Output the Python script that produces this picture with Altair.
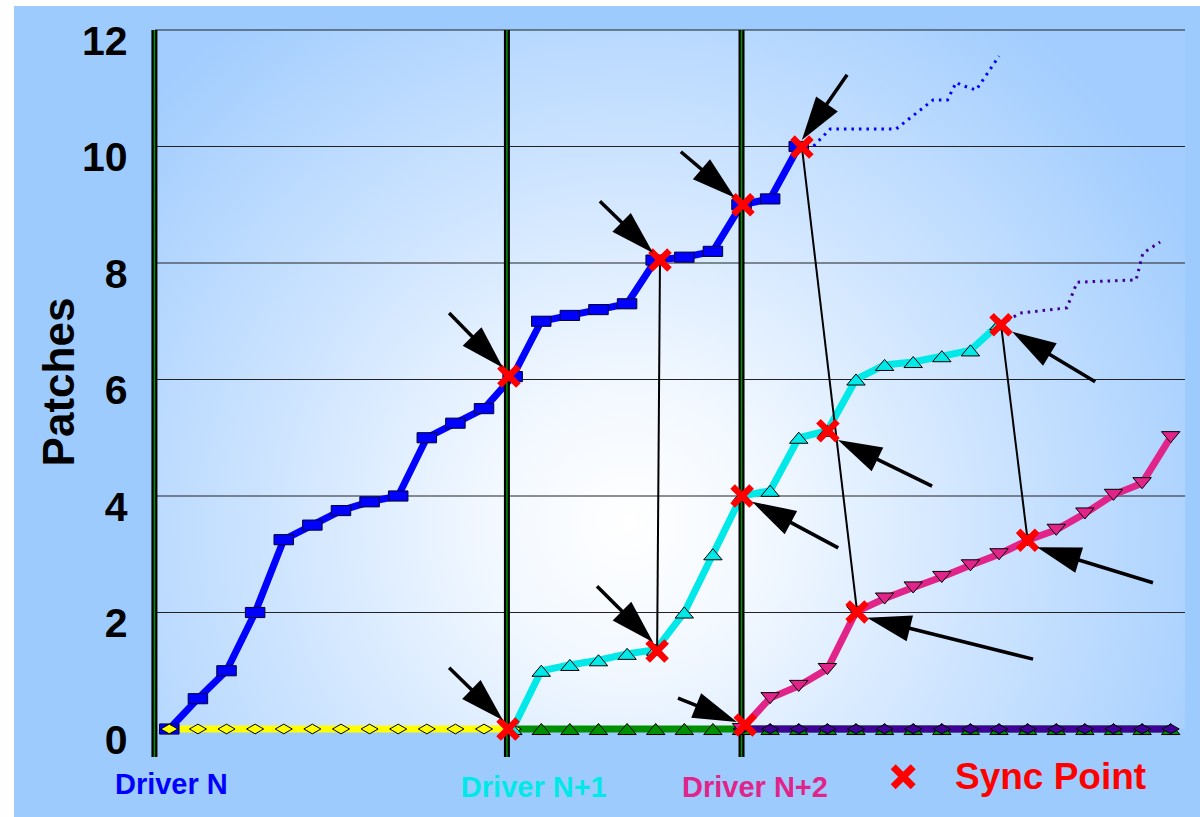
import math
import altair as alt
import pandas as pd

# ---------------- data ----------------
# x = patch/event slot index (0..35), y = Patches
n_idx = list(range(0, 23))
n_val = [0.0, 0.52, 1.0, 2.0, 3.25, 3.5, 3.75, 3.9, 4.0, 5.0, 5.25, 5.5, 6.05,
         7.0, 7.1, 7.2, 7.3, 8.05, 8.1, 8.2, 9.0, 9.1, 10.0]
n1_idx = list(range(12, 30))
n1_val = [0.0, 1.0, 1.1, 1.18, 1.29, 1.36, 2.0, 3.0, 4.0, 4.09, 5.0, 5.12,
          6.0, 6.25, 6.3, 6.4, 6.5, 6.95]
n2_idx = list(range(20, 36))
n2_val = [0.0, 0.53, 0.74, 1.03, 2.01, 2.24, 2.43, 2.61, 2.81, 3.0, 3.24,
          3.42, 3.7, 4.02, 4.22, 5.01]

# zero baselines (idle drivers)
yellow_idx = list(range(0, 13))
green_idx = list(range(12, 36))
purple_idx = list(range(20, 36))

# dotted projections
proj_n_x = [22.0, 22.5, 23.1, 25.4, 26.7, 27.2, 27.5, 27.7, 28.2, 29.0]
proj_n_y = [10.0, 10.0, 10.3, 10.3, 10.8, 10.8, 11.1, 11.05, 10.97, 11.55]
proj_n1_x = [29.07, 29.73, 31.37, 31.73, 33.79, 34.03, 34.63]
proj_n1_y = [6.94, 7.14, 7.23, 7.67, 7.71, 8.17, 8.36]

# driver release boundaries
release_x = [-0.52, 11.8, 20.0]

# sync points
sync_x = [11.87, 11.84, 17.15, 17.05, 20.05, 20.02, 20.13, 22.11, 23.02, 24.04, 29.07, 30.0]
sync_y = [6.06, 0.0, 8.05, 1.34, 9.0, 4.0, 0.07, 9.99, 5.12, 2.01, 6.94, 3.24]

# thin links between synced points
link_x1 = [17.15, 22.11, 29.07]
link_y1 = [8.05, 9.99, 6.94]
link_x2 = [17.05, 24.04, 30.0]
link_y2 = [1.34, 2.01, 3.24]

# arrows (tail -> tip)
arrow_tail_x = [9.78, 9.78, 15.05, 14.95, 17.88, 17.78, 23.69, 23.38, 26.66, 32.36, 30.19, 34.38]
arrow_tail_y = [7.14, 1.05, 9.06, 2.45, 9.91, 0.53, 11.23, 3.11, 4.17, 5.96, 1.20, 2.51]
arrow_tip_x = [11.66, 11.66, 16.91, 16.91, 19.77, 19.84, 22.11, 20.37, 23.37, 29.46, 24.39, 30.33]
arrow_tip_y = [6.20, 0.15, 8.17, 1.49, 9.12, 0.12, 10.11, 3.90, 4.96, 6.82, 1.91, 3.12]

grid_vals = [2, 4, 6, 8, 10, 12]
y_ticks = [0, 2, 4, 6, 8, 10, 12]

# ---------------- layout / style ----------------
W, H = 1030, 699
XD = [-0.5, 35.5]
YD = [0, 12]
PXX = W / (XD[1] - XD[0])
PXY = H / (YD[1] - YD[0])
FONT = "Liberation Sans"

BLUE = "#0000ff"
CYAN = "#00e8e8"
MAGENTA = "#e0248a"
YELLOW = "#ffff00"
GREEN = "#008f00"
PURPLE = "#3f0096"
RED = "#ff0000"
OUTER = "#9ecbfd"

xs = alt.Scale(domain=XD, nice=False, zero=False)
ys = alt.Scale(domain=YD, nice=False, zero=False)

SQUARE = "M-1,-0.52L1,-0.52L1,0.52L-1,0.52Z"
DIAMOND = "M-1,0L0,-0.57L1,0L0,0.57Z"
TRI_UP = "M-1,0.6L1,0.6L0,-0.6Z"
TRI_DOWN = "M-1,-0.6L1,-0.6L0,0.6Z"
XMARK = "M-1,-1L1,1M-1,1L1,-1"
HEAD = "M0,0L0.6,2L-0.6,2Z"

yaxis = alt.Axis(
    values=y_ticks, domain=False, ticks=False, tickSize=0, grid=False, zindex=1,
    labelFont=FONT, labelFontSize=41, labelFontWeight="bold", labelColor="#000000",
    labelPadding=28, labelBaseline="middle", labelOffset=12,
    title="Patches", titleFont=FONT, titleFontSize=44, titleFontWeight="bold",
    titleColor="#000000", titleAngle=270, titleX=-82, titleY=351.5,
    titleAlign="center", titleBaseline="alphabetic",
)


def df(xv, yv):
    return pd.DataFrame({"x": xv, "y": yv})


def X(f="x"):
    return alt.X(f + ":Q", scale=xs, axis=None)


def Y(f="y"):
    return alt.Y(f + ":Q", scale=ys, axis=yaxis)


layers = []

# outer light-blue panel
layers.append(
    alt.Chart(df([0], [0])).mark_rect(color=OUTER).encode(
        x=alt.value(-141), x2=alt.value(W + 15), y=alt.value(-24), y2=alt.value(H + 88)
    )
)

# plot area gradient
grad = alt.RadialGradient(
    gradient="radial",
    stops=[
        alt.GradientStop(color="#ffffff", offset=0),
        alt.GradientStop(color="#f2f8ff", offset=0.22),
        alt.GradientStop(color="#cfe5ff", offset=0.55),
        alt.GradientStop(color="#a2cdfe", offset=1),
    ],
    x1=0.46, y1=0.64, r1=0, x2=0.46, y2=0.64, r2=0.62,
)
bg = pd.DataFrame({"x": [XD[0]], "x2": [XD[1]], "y": [YD[0]], "y2": [YD[1]]})
layers.append(
    alt.Chart(bg).mark_rect(fill=grad).encode(x=X(), x2="x2:Q", y=Y(), y2="y2:Q")
)

# grid lines
grid_df = pd.DataFrame({"y": grid_vals, "x": [XD[0]] * len(grid_vals), "x2": [XD[1]] * len(grid_vals)})
layers.append(
    alt.Chart(grid_df).mark_rule(color="#222222", strokeWidth=1.2).encode(x=X(), x2="x2:Q", y=Y())
)

# dotted projections
layers.append(alt.Chart(df(proj_n_x, proj_n_y)).mark_line(
    color=BLUE, strokeWidth=3, strokeDash=[2.5, 5]).encode(x=X(), y=Y(), order="x:Q"))
layers.append(alt.Chart(df(proj_n1_x, proj_n1_y)).mark_line(
    color=PURPLE, strokeWidth=3, strokeDash=[2.5, 5]).encode(x=X(), y=Y(), order="x:Q"))

# zero baselines
layers.append(alt.Chart(df(yellow_idx, [0] * len(yellow_idx))).mark_line(color=YELLOW, strokeWidth=7).encode(x=X(), y=Y()))
layers.append(alt.Chart(df(green_idx, [0] * len(green_idx))).mark_line(color=GREEN, strokeWidth=7).encode(x=X(), y=Y()))
layers.append(alt.Chart(df(purple_idx, [0] * len(purple_idx))).mark_line(color=PURPLE, strokeWidth=7).encode(x=X(), y=Y()))

# driver curves
layers.append(alt.Chart(df(n_idx, n_val)).mark_line(color=BLUE, strokeWidth=7).encode(x=X(), y=Y()))
layers.append(alt.Chart(df(n1_idx, n1_val)).mark_line(color=CYAN, strokeWidth=7).encode(x=X(), y=Y()))
layers.append(alt.Chart(df(n2_idx, n2_val)).mark_line(color=MAGENTA, strokeWidth=7).encode(x=X(), y=Y()))

# release boundaries (black with green core)
rel = pd.DataFrame({"x": release_x, "y": [-0.48] * 3, "y2": [12] * 3})
layers.append(alt.Chart(rel).mark_rule(color="#000000", strokeWidth=6).encode(x=X(), y=Y(), y2="y2:Q"))
layers.append(alt.Chart(rel).mark_rule(color="#0a8a0a", strokeWidth=1.6).encode(x=X(), y=Y(), y2="y2:Q"))

# links between sync points
links = pd.DataFrame({"x": link_x1, "y": link_y1, "x2": link_x2, "y2": link_y2})
layers.append(alt.Chart(links).mark_rule(color="#000000", strokeWidth=2).encode(x=X(), y=Y(), x2="x2:Q", y2="y2:Q"))


def markers(xv, yv, shape, fill, size, stroke="#000000"):
    return alt.Chart(df(xv, yv)).mark_point(
        shape=shape, filled=True, fill=fill, stroke=stroke, strokeWidth=1,
        size=size, opacity=1,
    ).encode(x=X(), y=Y())


layers.append(markers(n_idx, n_val, SQUARE, BLUE, 380, stroke="#000033"))
layers.append(markers(green_idx, [0] * len(green_idx), TRI_UP, GREEN, 340))
layers.append(markers(yellow_idx, [0] * len(yellow_idx), DIAMOND, YELLOW, 290))
layers.append(markers(purple_idx, [0] * len(purple_idx), DIAMOND, PURPLE, 290))
layers.append(markers(n1_idx, n1_val, TRI_UP, CYAN, 340))
layers.append(markers(n2_idx, n2_val, TRI_DOWN, MAGENTA, 340))

# sync point crosses
layers.append(alt.Chart(df(sync_x, sync_y)).mark_point(
    shape=XMARK, filled=False, color=RED, strokeWidth=6.5, size=360, opacity=1
).encode(x=X(), y=Y()))

# arrows
shaft_rows, head_rows = [], []
for tx, ty, hx, hy in zip(arrow_tail_x, arrow_tail_y, arrow_tip_x, arrow_tip_y):
    dxp = (hx - tx) * PXX
    dyp = -(hy - ty) * PXY
    L = math.hypot(dxp, dyp)
    ang = math.degrees(math.atan2(dxp, -dyp)) % 360
    back = 24.0 / L
    shaft_rows.append({"x": tx, "y": ty, "x2": hx - (hx - tx) * back, "y2": hy - (hy - ty) * back})
    head_rows.append({"x": hx, "y": hy, "ang": ang})
layers.append(alt.Chart(pd.DataFrame(shaft_rows)).mark_rule(color="#000000", strokeWidth=3.5).encode(
    x=X(), y=Y(), x2="x2:Q", y2="y2:Q"))
layers.append(alt.Chart(pd.DataFrame(head_rows)).mark_point(
    shape=HEAD, filled=True, color="#000000", size=1936, opacity=1
).encode(x=X(), y=Y(), angle=alt.Angle("ang:Q", scale=None)))

# bottom labels
label_text = ["Driver N", "Driver N+1", "Driver N+2", "Sync Point"]
label_x = [-1.9, 10.19, 17.92, 27.46]
label_y = [-1.12, -1.17, -1.17, -1.03]
label_color = [BLUE, CYAN, MAGENTA, RED]
label_size = [29, 29, 29, 37]
for t, lx, ly, c, s in zip(label_text, label_x, label_y, label_color, label_size):
    layers.append(alt.Chart(df([lx], [ly]).assign(t=[t])).mark_text(
        align="left", baseline="alphabetic", font=FONT, fontWeight="bold",
        fontSize=s, color=c
    ).encode(x=X(), y=Y(), text="t:N"))

# legend cross
layers.append(alt.Chart(df([25.65], [-0.82])).mark_point(
    shape=XMARK, filled=False, color=RED, strokeWidth=7, size=400, opacity=1
).encode(x=X(), y=Y()))

chart = alt.layer(*layers).properties(
    width=W, height=H,
    autosize=alt.AutoSizeParams(type="none"),
    padding={"left": 155, "top": 30, "right": 15, "bottom": 88},
    background="#ffffff",
).configure_view(stroke="#555555", strokeWidth=1.5)

chart.save("out.html", embed_options={"renderer": "svg", "actions": False})
